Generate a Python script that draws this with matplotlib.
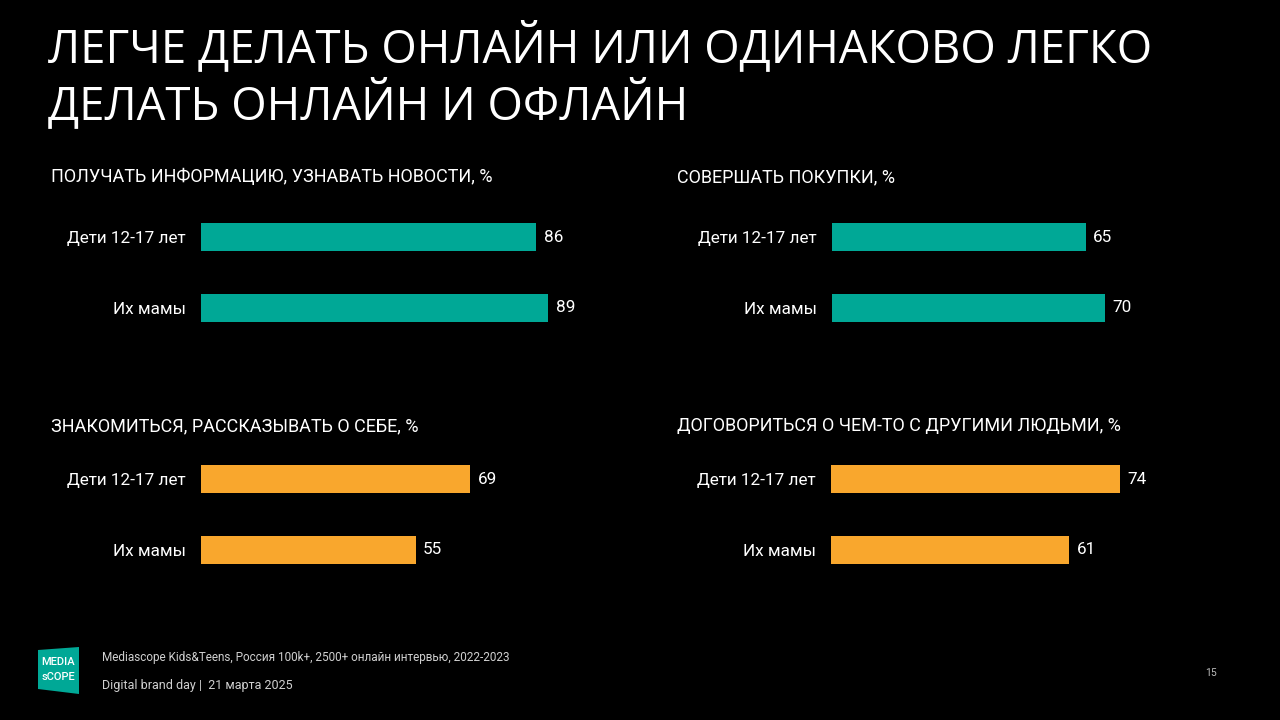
import matplotlib
matplotlib.use("Agg")
import matplotlib.pyplot as plt
from matplotlib.patches import Polygon

# ---- data ----
title = "ЛЕГЧЕ ДЕЛАТЬ ОНЛАЙН ИЛИ ОДИНАКОВО ЛЕГКО\nДЕЛАТЬ ОНЛАЙН И ОФЛАЙН"
categories = ["Дети 12-17 лет", "Их мамы"]
panel_titles = [
    "ПОЛУЧАТЬ ИНФОРМАЦИЮ, УЗНАВАТЬ НОВОСТИ, %",
    "СОВЕРШАТЬ ПОКУПКИ, %",
    "ЗНАКОМИТЬСЯ, РАССКАЗЫВАТЬ О СЕБЕ, %",
    "ДОГОВОРИТЬСЯ О ЧЕМ-ТО С ДРУГИМИ ЛЮДЬМИ, %",
]
info_values = [86, 89]
shopping_values = [65, 70]
meeting_values = [69, 55]
agree_values = [74, 61]
footer_source = "Mediascope Kids&Teens, Россия 100k+, 2500+ онлайн интервью, 2022-2023"
footer_event = "Digital brand day |  21 марта 2025"
page_number = "15"

TEAL = "#00A896"
ORANGE = "#F9A72D"
BG = "#000000"

W, H = 1280, 720
fig = plt.figure(figsize=(W / 100, H / 100), dpi=100, facecolor=BG)
FONT = ["Roboto", "DejaVu Sans"]

def fx(px):
    return px / W

def fy(py):
    return 1 - py / H

# title
fig.text(fx(48), fy(42), title.split("\n")[0], color="white", fontsize=32.8,
         family=["Open Sans", "DejaVu Sans"], va="center_baseline", ha="left")
fig.text(fx(48), fy(99), title.split("\n")[1], color="white", fontsize=32.8,
         family=["Open Sans", "DejaVu Sans"], va="center_baseline", ha="left")

panels = [
    (panel_titles[0], info_values, TEAL, 201, 201.5, 51, 177),
    (panel_titles[1], shopping_values, TEAL, 832, 201.5, 677, 177),
    (panel_titles[2], meeting_values, ORANGE, 201, 443.5, 51, 426),
    (panel_titles[3], agree_values, ORANGE, 831, 443.5, 677, 426),
]

PX_PER_UNIT = 3.9
AX_UNITS = 100
for ptitle, vals, col, x0, ytop, tx, ty in panels:
    axw = AX_UNITS * PX_PER_UNIT
    axh = 142
    ax = fig.add_axes([fx(x0), fy(ytop + axh), axw / W, axh / H])
    ax.set_facecolor(BG)
    ypos = list(range(len(categories)))
    ax.barh(ypos, vals, height=28 / 71, color=col, left=0)
    ax.set_xlim(0, AX_UNITS)
    ax.set_ylim(1.5, -0.5)
    ax.set_yticks(ypos)
    ax.set_yticklabels(categories, color="white", fontsize=12.3, family=FONT)
    ax.tick_params(axis="y", length=0, pad=10.8)
    ax.set_xticks([])
    for s in ax.spines.values():
        s.set_visible(False)
    for y, v in zip(ypos, vals):
        ax.annotate(str(v), (v, y), xytext=(5.5, 0), textcoords="offset points",
                    va="center", ha="left", color="white", fontsize=12.3,
                    family=FONT)
    fig.text(fx(tx), fy(ty), ptitle, color="white", fontsize=13,
             family=FONT, va="center", ha="left")

# footer
fig.text(fx(102), fy(657), footer_source, color="#d0d0d0", fontsize=8.5,
         family=FONT, va="center", ha="left")
fig.text(fx(102), fy(686), footer_event, color="#d0d0d0", fontsize=9,
         family=FONT, va="center", ha="left")
fig.text(fx(1211), fy(673), page_number, color="#bbbbbb", fontsize=7.5,
         family=FONT, va="center", ha="center")

# logo
logo = Polygon([(fx(38), fy(650)), (fx(79), fy(647)), (fx(79), fy(694)),
                (fx(38), fy(689))], closed=True, transform=fig.transFigure,
               facecolor=TEAL, edgecolor="none")
fig.patches.append(logo)
fig.text(fx(58), fy(662), "MEDIA", color="white", fontsize=8, family=FONT,
         ha="center", va="center", fontweight="medium")
fig.text(fx(58), fy(677), "sCOPE", color="white", fontsize=8, family=FONT,
         ha="center", va="center", fontweight="medium")

fig.savefig("out.png", dpi=100, facecolor=BG)
